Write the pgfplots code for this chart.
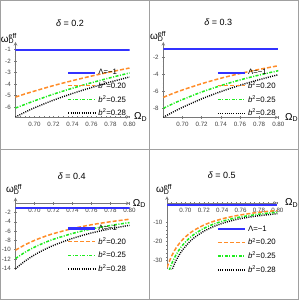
\documentclass[border=0pt]{standalone}
\usepackage{fontspec}
\setmainfont{Liberation Sans}
\usepackage{pgfplots}
\pgfplotsset{compat=1.18}
\definecolor{mblue}{RGB}{50,50,255}
\definecolor{morange}{RGB}{255,140,40}
\definecolor{mgreen}{RGB}{30,235,30}
\definecolor{axgray}{RGB}{120,120,120}
\definecolor{framegray}{RGB}{160,160,160}
\pgfplotsset{
  mstyle/.style={
    scale only axis,
    axis line style={axgray, line width=0.6pt, -},
    tick style={axgray, line width=0.5pt},
    tick align=inside,
    major tick length=2.5pt, minor tick length=1.5pt,
    xmin=0.68, xmax=0.80,
    xtick={0.70,0.72,0.74,0.76,0.78,0.80},
    minor xtick={0.685,0.69,0.695,0.705,0.71,0.715,0.725,0.73,0.735,0.745,0.75,0.755,0.765,0.77,0.775,0.785,0.79,0.795},
    xticklabel style={/pgf/number format/.cd, fixed, fixed zerofill, precision=2},
    ticklabel style={font=\fontsize{6.2}{7}\selectfont, text=black!75},
    /pgf/number format/assume math mode=true,
    legend style={draw=none, fill=none, font=\fontsize{7.8}{8.5}\selectfont, anchor=north west, row sep=1.6pt, inner sep=0pt, cells={anchor=west}},
    legend image code/.code={\draw[##1] (0pt,0pt) -- (27pt,0pt);},
    title style={font=\fontsize{9}{10}\selectfont, anchor=center},
    xlabel={Ω\textsubscript{D}},
    ylabel={ω\rlap{\textsuperscript{eff}}\textsubscript{D}},
    label style={font=\fontsize{6.5}{7}\selectfont, text=black!75},
  },
  lblue/.style={mblue, line width=2.2pt},
  lorange/.style={morange, line width=1.5pt, dash pattern=on 4pt off 2pt, smooth},
  lgreen/.style={mgreen, line width=1.5pt, dash pattern=on 3pt off 1.5pt on 1pt off 1.5pt, smooth},
  lblack/.style={black, line width=1.4pt, dash pattern=on 1pt off 1.2pt, smooth},
}
\begin{document}
\begin{tikzpicture}[x=1pt,y=1pt]
\useasboundingbox (0,0) rectangle (299,300);
\draw[framegray, line width=0.8pt] (0.4,0.4) rectangle (298.6,299.6);
\draw[framegray, line width=0.8pt] (149.5,0.4) -- (149.5,299.6);
\draw[framegray, line width=0.8pt] (0.4,150.5) -- (298.6,150.5);

% Panel 1
\begin{axis}[mstyle, at={(15.5pt,183pt)}, anchor=south west,
  width=114pt, height=75pt,
  axis x line=bottom, axis y line=left,
  ymin=-6.87, ymax=-0.33, ytick={-6,-5,-4,-3,-2,-1}, minor y tick num=4,
  title={{\itshape δ} = 0.2}, title style={at={(0.478,1.173)}},
  every axis x label/.style={at={(1.039,0)}, anchor=west, inner sep=0pt},
  every axis y label/.style={at={(0.02,0.93)}, anchor=south east},
  legend style={at={(0.452,0.667)}},
]
\addplot[lblue] coordinates {(0.68,-1) (0.80,-1)};
\addplot[lorange] coordinates {(0.68,-5.13) (0.69,-4.86) (0.70,-4.61) (0.72,-4.13) (0.74,-3.70) (0.76,-3.30) (0.78,-2.94) (0.80,-2.60)};
\addplot[lgreen] coordinates {(0.68,-6.09) (0.69,-5.77) (0.70,-5.46) (0.72,-4.88) (0.74,-4.36) (0.76,-3.88) (0.78,-3.44) (0.80,-3.03)};
\addplot[lblack] coordinates {(0.68,-6.87) (0.69,-6.45) (0.70,-6.07) (0.72,-5.40) (0.74,-4.82) (0.76,-4.30) (0.78,-3.82) (0.80,-3.38)};
\legend{Λ=−1, {\itshape b}\textsuperscript{2}=0.20, {\itshape b}\textsuperscript{2}=0.25, {\itshape b}\textsuperscript{2}=0.28}
\end{axis}

% Panel 2
\begin{axis}[mstyle, at={(163.3pt,182.7pt)}, anchor=south west,
  width=115pt, height=75.3pt,
  axis x line=bottom, axis y line=left,
  ymin=-9, ymax=-0.21, ytick={-8,-6,-4,-2}, minor y tick num=3,
  title={{\itshape δ} = 0.3}, title style={at={(0.478,1.18)}},
  every axis x label/.style={at={(1.058,0)}, anchor=west, inner sep=0pt},
  every axis y label/.style={at={(0.032,0.96)}, anchor=south east},
  legend style={at={(0.464,0.668)}},
]
\addplot[lblue] coordinates {(0.68,-1) (0.80,-1)};
\addplot[lorange] coordinates {(0.68,-6.67) (0.69,-6.22) (0.70,-5.81) (0.72,-5.08) (0.74,-4.44) (0.76,-3.89) (0.78,-3.41) (0.80,-2.98)};
\addplot[lgreen] coordinates {(0.68,-7.95) (0.69,-7.42) (0.70,-6.93) (0.72,-6.05) (0.74,-5.30) (0.76,-4.64) (0.78,-4.07) (0.80,-3.56)};
\addplot[lblack] coordinates {(0.68,-9.0) (0.69,-8.40) (0.70,-7.84) (0.72,-6.85) (0.74,-6.00) (0.76,-5.26) (0.78,-4.61) (0.80,-4.03)};
\legend{Λ=−1, {\itshape b}\textsuperscript{2}=0.20, {\itshape b}\textsuperscript{2}=0.25, {\itshape b}\textsuperscript{2}=0.28}
\end{axis}

% Panel 3
\begin{axis}[mstyle, at={(15.5pt,30.3pt)}, anchor=south west,
  width=114pt, height=72pt,
  axis x line=middle, axis y line=left,
  ymin=-14.3, ymax=1.2, ytick={-14,-12,-10,-8,-6,-4,-2}, minor y tick num=3,
  title={{\itshape δ} = 0.4}, title style={at={(0.493,1.22)}},
  every axis x label/.style={at={(1.028,0.9226)}, anchor=west, inner sep=0pt},
  every axis y label/.style={at={(0.066,1.0)}, anchor=south east},
  legend style={at={(0.452,0.65)}},
]
\addplot[lblue] coordinates {(0.68,-1) (0.80,-1)};
\addplot[lorange] coordinates {(0.68,-10.10) (0.69,-8.94) (0.70,-7.99) (0.71,-7.20) (0.72,-6.53) (0.74,-5.45) (0.76,-4.62) (0.78,-3.97) (0.80,-3.44)};
\addplot[lgreen] coordinates {(0.68,-11.9) (0.69,-10.55) (0.70,-9.45) (0.71,-8.53) (0.72,-7.75) (0.74,-6.50) (0.76,-5.53) (0.78,-4.78) (0.80,-4.16)};
\addplot[lblack] coordinates {(0.68,-14.07) (0.69,-12.45) (0.70,-11.11) (0.71,-10.01) (0.72,-9.07) (0.74,-7.56) (0.76,-6.39) (0.78,-5.49) (0.80,-4.74)};
\legend{Λ=−1, {\itshape b}\textsuperscript{2}=0.20, {\itshape b}\textsuperscript{2}=0.25, {\itshape b}\textsuperscript{2}=0.28}
\end{axis}

% Panel 4
\begin{axis}[mstyle, at={(167pt,30.7pt)}, anchor=south west,
  width=110.4pt, height=73pt,
  axis x line=middle, axis y line=left,
  ymin=-34.5, ymax=3.5, ytick={-30,-20,-10}, minor y tick num=4,
  title={{\itshape δ} = 0.5}, title style={at={(0.495,1.2)}},
  every axis x label/.style={at={(1.069,0.908)}, anchor=west, inner sep=0pt},
  every axis y label/.style={at={(0.054,0.98)}, anchor=south east},
  legend style={at={(0.45,0.625)}},
]
\addplot[lblue] coordinates {(0.68,-1) (0.80,-1)};
\addplot[lorange] coordinates {(0.68,-33.5) (0.685,-27.6) (0.69,-23.3) (0.695,-20.1) (0.70,-17.65) (0.705,-15.66) (0.71,-14.02) (0.72,-11.5) (0.73,-9.65) (0.74,-8.23) (0.75,-7.11) (0.76,-6.20) (0.78,-4.82) (0.80,-3.90)};
\addplot[lgreen] coordinates {(0.68,-38.5) (0.685,-31.7) (0.69,-26.8) (0.695,-23.1) (0.70,-20.3) (0.705,-18.0) (0.71,-16.1) (0.72,-13.2) (0.73,-11.1) (0.74,-9.5) (0.75,-8.25) (0.76,-7.25) (0.78,-5.8) (0.80,-4.8)};
\addplot[lblack] coordinates {(0.68,-42.9) (0.685,-35.3) (0.69,-29.8) (0.695,-25.7) (0.70,-22.6) (0.705,-20.0) (0.71,-17.9) (0.72,-14.7) (0.73,-12.4) (0.74,-10.6) (0.75,-9.2) (0.76,-8.1) (0.78,-6.6) (0.80,-5.6)};
\legend{Λ=−1, {\itshape b}\textsuperscript{2}=0.20, {\itshape b}\textsuperscript{2}=0.25, {\itshape b}\textsuperscript{2}=0.28}
\end{axis}
\end{tikzpicture}
\end{document}
